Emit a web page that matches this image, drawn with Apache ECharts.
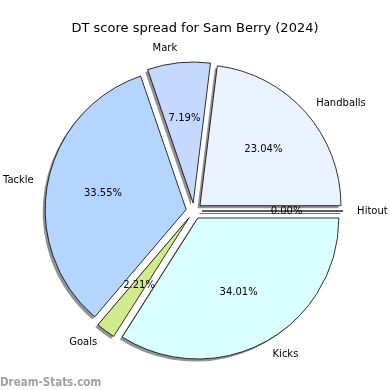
<!DOCTYPE html>
<html><head><meta charset="utf-8">
<script src="https://cdn.jsdelivr.net/npm/echarts@6/dist/echarts.min.js"></script>
<style>html,body{margin:0;padding:0;background:#fff}#c{width:390px;height:390px}</style>
</head><body><div id="c"></div>
<script>
const categories = ['Hitout', 'Handballs', 'Mark', 'Tackle', 'Goals', 'Kicks'];
const values = [0.00, 23.04, 7.19, 33.55, 2.21, 34.01];
const colors = ['#e8f0ff', '#eaf1ff', '#c5d9ff', '#b4d5ff', '#d0ea8c', '#d9ffff'];
const titleText = 'DT score spread for Sam Berry (2024)';
const watermark = 'Dream-Stats.com';

const total = values.reduce((a, b) => a + b, 0);
const CX = 194, CY = 211, R = 141, OFF = 8;
const font = 'DejaVu Sans';

function mk(i, kind) {
  let st;
  if (kind === 'main') st = { color: colors[i], borderColor: '#000', borderWidth: 0.8 };
  else if (kind === 'shadow') st = { color: 'rgba(40,40,40,0.5)', borderColor: 'rgba(40,40,40,0.5)', borderWidth: i === 0 ? 0.8 : 0 };
  else st = { color: 'rgba(0,0,0,0)', borderWidth: 0 };
  return { name: categories[i], value: values[i], selected: true, itemStyle: st };
}
const base = {
  type: 'pie', startAngle: 0, clockwise: false,
  selectedMode: 'multiple', selectedOffset: OFF, avoidLabelOverlap: false,
  animation: false, minAngle: 0, emphasis: { disabled: true }, silent: true,
  percentPrecision: 2, stillShowZeroSum: true
};
const chart = echarts.init(document.getElementById('c'), null, { renderer: 'canvas' });
chart.setOption({
  backgroundColor: '#fff',
  title: [
    { text: titleText, left: 'center', top: 17, textStyle: { fontFamily: font, fontSize: 13, fontWeight: 'normal', color: '#000' } },
    { text: watermark, left: 0, top: 377, padding: 0, textStyle: { fontFamily: 'DejaVu Sans Condensed', fontSize: 11.5, fontWeight: 'bold', color: 'rgba(150,150,150,0.9)' } }
  ],
  series: [
    Object.assign({}, base, {
      center: [CX - 2.5, CY + 2.5], radius: [0, R], z: 1,
      data: categories.map((c, i) => mk(i, 'shadow')),
      label: { show: false }, labelLine: { show: false }
    }),
    Object.assign({}, base, {
      center: [CX, CY], radius: [0, R], z: 2,
      data: categories.map((c, i) => mk(i, 'main')),
      label: { show: true, position: 'outside', formatter: '{b}', fontFamily: font, fontSize: 10, color: '#000', distanceToLabelLine: 0 },
      labelLine: { show: false, length: 0.1 * R, length2: 0.01 }
    }),
    Object.assign({}, base, {
      center: [CX, CY], radius: [0.2 * R - 6, R], z: 3,
      data: categories.map((c, i) => mk(i, 'overlay')),
      label: { show: true, position: 'inside', fontFamily: font, fontSize: 10, color: '#000',
        formatter: p => (p.value / total * 100).toFixed(2) + '%' },
      labelLine: { show: false }
    })
  ]
});
</script></body></html>
